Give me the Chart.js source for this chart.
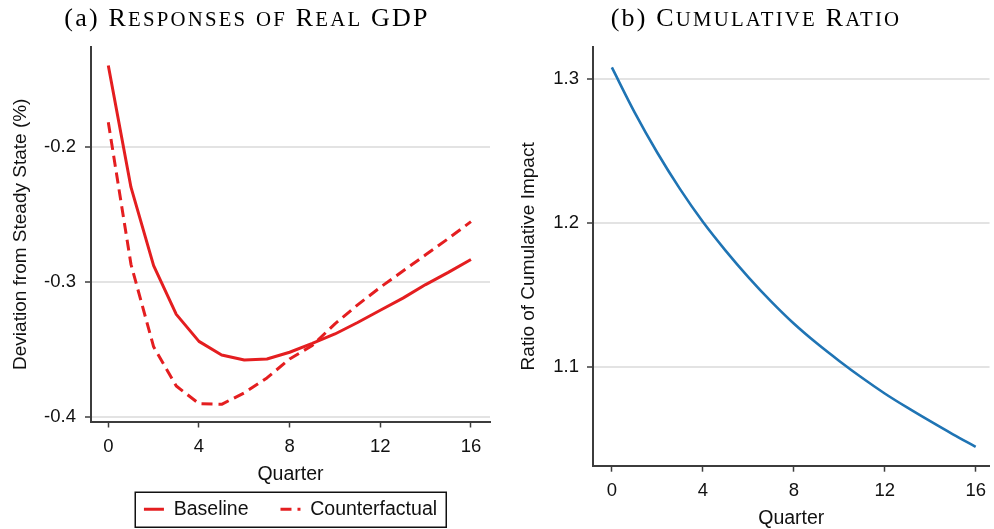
<!DOCTYPE html>
<html>
<head>
<meta charset="utf-8">
<script src="https://cdn.jsdelivr.net/npm/chart.js@4/dist/chart.umd.min.js"></script>
<style>
  html, body { margin: 0; padding: 0; background: #ffffff; }
  body { width: 994px; height: 529px; position: relative; overflow: hidden; }
  #gdpChart { position: absolute; left: 0; top: 0; }
  #ratioChart { position: absolute; left: 517px; top: 0; }
  .panel-title {
    position: absolute; top: 3px; width: 480px; margin-left: -240px;
    text-align: center; white-space: nowrap;
    font-family: "Liberation Serif", "DejaVu Serif", serif;
    font-size: 26px; line-height: 30px; letter-spacing: 2.2px; color: #000;
  }
  .panel-title .sc { font-size: 0.8em; text-transform: uppercase; }
  #titleA { left: 247px; }
  #titleB { left: 756px; }
</style>
</head>
<body>
<canvas id="gdpChart" width="492" height="529"></canvas>
<canvas id="ratioChart" width="477" height="529"></canvas>
<div class="panel-title" id="titleA"></div>
<div class="panel-title" id="titleB"></div>
<script>
// Horizon in quarters
const quarters = [0, 1, 2, 3, 4, 5, 6, 7, 8, 9, 10, 11, 12, 13, 14, 15, 16];

// Real GDP responses, deviation from steady state (%)
const baseline = [-0.140, -0.230, -0.288, -0.324, -0.344, -0.354, -0.3577, -0.357, -0.352,
                  -0.3455, -0.3385, -0.330, -0.321, -0.312, -0.302, -0.293, -0.2835];
const counterfactual = [-0.182, -0.287, -0.348, -0.377, -0.390, -0.3905, -0.382, -0.371, -0.357,
                        -0.347, -0.331, -0.317, -0.304, -0.292, -0.280, -0.268, -0.2555];

// Ratio of cumulative impact
const cumulativeRatio = [1.308, 1.2768, 1.2487, 1.2234, 1.2007, 1.1807, 1.1623, 1.1454, 1.1300,
                         1.1164, 1.1040, 1.0923, 1.0814, 1.0715, 1.0621, 1.0530, 1.0443];

// Tick labels
const quarterTicks = [0, 4, 8, 12, 16];
const gdpTicks = [-0.4, -0.3, -0.2];
const ratioTicks = [1.1, 1.2, 1.3];

// Panel headings
const panelTags = ['(a)', '(b)'];
const panelNames = ['Responses of Real GDP', 'Cumulative Ratio'];

const SANS = '"Liberation Sans", Arial, Helvetica, sans-serif';
const RED = '#e41e20';
const BLUE = '#1f74b4';
const AXIS = '#3c3c3c';
const GRID = '#e3e3e3';
const TEXT = '#111111';

// Small-caps heading: capitals stay full size, lower-case letters become small capitals
function setHeading(el, tag, name) {
  el.textContent = '';
  el.appendChild(document.createTextNode(tag + ' '));
  name.split(' ').forEach((word, i) => {
    if (i > 0) el.appendChild(document.createTextNode(' '));
    let k = 0;
    while (k < word.length && word[k] === word[k].toUpperCase()) k++;
    if (k > 0) el.appendChild(document.createTextNode(word.slice(0, k)));
    if (k < word.length) {
      const s = document.createElement('span');
      s.className = 'sc';
      s.textContent = word.slice(k);
      el.appendChild(s);
    }
  });
}
setHeading(document.getElementById('titleA'), panelTags[0], panelNames[0]);
setHeading(document.getElementById('titleB'), panelTags[1], panelNames[1]);

Chart.defaults.font.family = SANS;
Chart.defaults.color = TEXT;
Chart.defaults.animation = false;

function fixedTicks(values) {
  return function (scale) { scale.ticks = values.map(v => ({ value: v })); };
}

function xAxis(min, max, height, titlePadBottom) {
  return {
    type: 'linear', min: min, max: max,
    afterBuildTicks: fixedTicks(quarterTicks),
    afterFit: s => { s.height = height; },
    border: { display: true, color: AXIS, width: 2 },
    grid: { drawOnChartArea: false, drawTicks: true, tickLength: 6, tickColor: AXIS, tickWidth: 1.5 },
    ticks: { padding: 8, font: { size: 18.5 }, color: TEXT, callback: v => String(v), maxRotation: 0 },
    title: { display: true, text: 'Quarter', font: { size: 19.5 }, color: TEXT,
             padding: { top: 0, bottom: titlePadBottom } }
  };
}

function yAxis(min, max, ticks, width, label, titlePadTop, tickPad) {
  return {
    type: 'linear', min: min, max: max,
    afterBuildTicks: fixedTicks(ticks),
    afterFit: s => { s.width = width; },
    border: { display: true, color: AXIS, width: 2 },
    grid: { drawOnChartArea: true, color: GRID, lineWidth: 2, drawTicks: true,
            tickLength: 6, tickColor: AXIS, tickWidth: 1.5 },
    ticks: { padding: tickPad, font: { size: 18.5 }, color: TEXT, callback: v => v.toFixed(1) },
    title: { display: true, text: label, font: { size: 19 }, color: TEXT,
             padding: { top: titlePadTop, bottom: 0 } }
  };
}

// Frame drawn around the legend entries
const legendFrame = {
  id: 'legendFrame',
  afterDraw(chart) {
    const lg = chart.legend;
    if (!lg || !lg.options.display || !lg.legendHitBoxes || !lg.legendHitBoxes.length) return;
    const boxes = lg.legendHitBoxes;
    const first = boxes[0];
    const last = boxes[boxes.length - 1];
    const cy = first.top + first.height / 2;
    const x1 = first.left - 9;
    const x2 = last.left + last.width + 8.5;
    const ctx = chart.ctx;
    ctx.save();
    ctx.strokeStyle = '#111111';
    ctx.lineWidth = 1.5;
    ctx.strokeRect(Math.round(x1) + 0.25, Math.round(cy - 17.5) + 0.25, Math.round(x2 - x1), 35);
    ctx.restore();
  }
};

// Panel (a): responses of real GDP
new Chart(document.getElementById('gdpChart'), {
  type: 'line',
  data: {
    labels: quarters,
    datasets: [
      { label: 'Baseline', data: quarters.map((q, i) => ({ x: q, y: baseline[i] })),
        borderColor: RED, backgroundColor: RED, borderWidth: 3, pointRadius: 0,
        tension: 0, borderJoinStyle: 'round', fill: false },
      { label: 'Counterfactual', data: quarters.map((q, i) => ({ x: q, y: counterfactual[i] })),
        borderColor: RED, backgroundColor: RED, borderWidth: 3, borderDash: [11, 6], pointRadius: 0,
        tension: 0, borderJoinStyle: 'round', fill: false }
    ]
  },
  options: {
    responsive: false, devicePixelRatio: 1, animation: false,
    layout: { padding: { left: 0, right: 2, top: 47, bottom: 0 } },
    scales: {
      x: xAxis(-0.763, 16.84, 46, -18.5),
      y: yAxis(-0.4032, -0.1264, gdpTicks, 91, 'Deviation from Steady State (%)', 9, 9)
    },
    plugins: {
      title: { display: false },
      tooltip: { enabled: false },
      legend: {
        display: true, position: 'bottom', fullSize: false,
        labels: {
          usePointStyle: true, pointStyle: 'line', pointStyleWidth: 20,
          padding: 32, color: TEXT, font: { size: 19.5 },
          generateLabels(chart) {
            const items = Chart.defaults.plugins.legend.labels.generateLabels(chart);
            items.forEach(it => {
              const ds = chart.data.datasets[it.datasetIndex];
              it.lineWidth = ds.borderWidth;
              it.lineDash = ds.borderDash || [];
              it.strokeStyle = ds.borderColor;
            });
            return items;
          }
        }
      }
    }
  },
  plugins: [legendFrame]
});

// Panel (b): cumulative ratio
new Chart(document.getElementById('ratioChart'), {
  type: 'line',
  data: {
    labels: quarters,
    datasets: [
      { label: 'Ratio', data: quarters.map((q, i) => ({ x: q, y: cumulativeRatio[i] })),
        borderColor: BLUE, backgroundColor: BLUE, borderWidth: 2.6, pointRadius: 0,
        cubicInterpolationMode: 'monotone', borderJoinStyle: 'round', fill: false }
    ]
  },
  options: {
    responsive: false, devicePixelRatio: 1, animation: false,
    layout: { padding: { left: 0, right: 1, top: 47, bottom: 0 } },
    scales: {
      x: xAxis(-0.83, 16.61, 63.3, -1.5),
      y: yAxis(1.0312, 1.3222, ratioTicks, 76, 'Ratio of Cumulative Impact', 0, 8)
    },
    plugins: {
      title: { display: false },
      tooltip: { enabled: false },
      legend: { display: false }
    }
  }
});
</script>
</body>
</html>
